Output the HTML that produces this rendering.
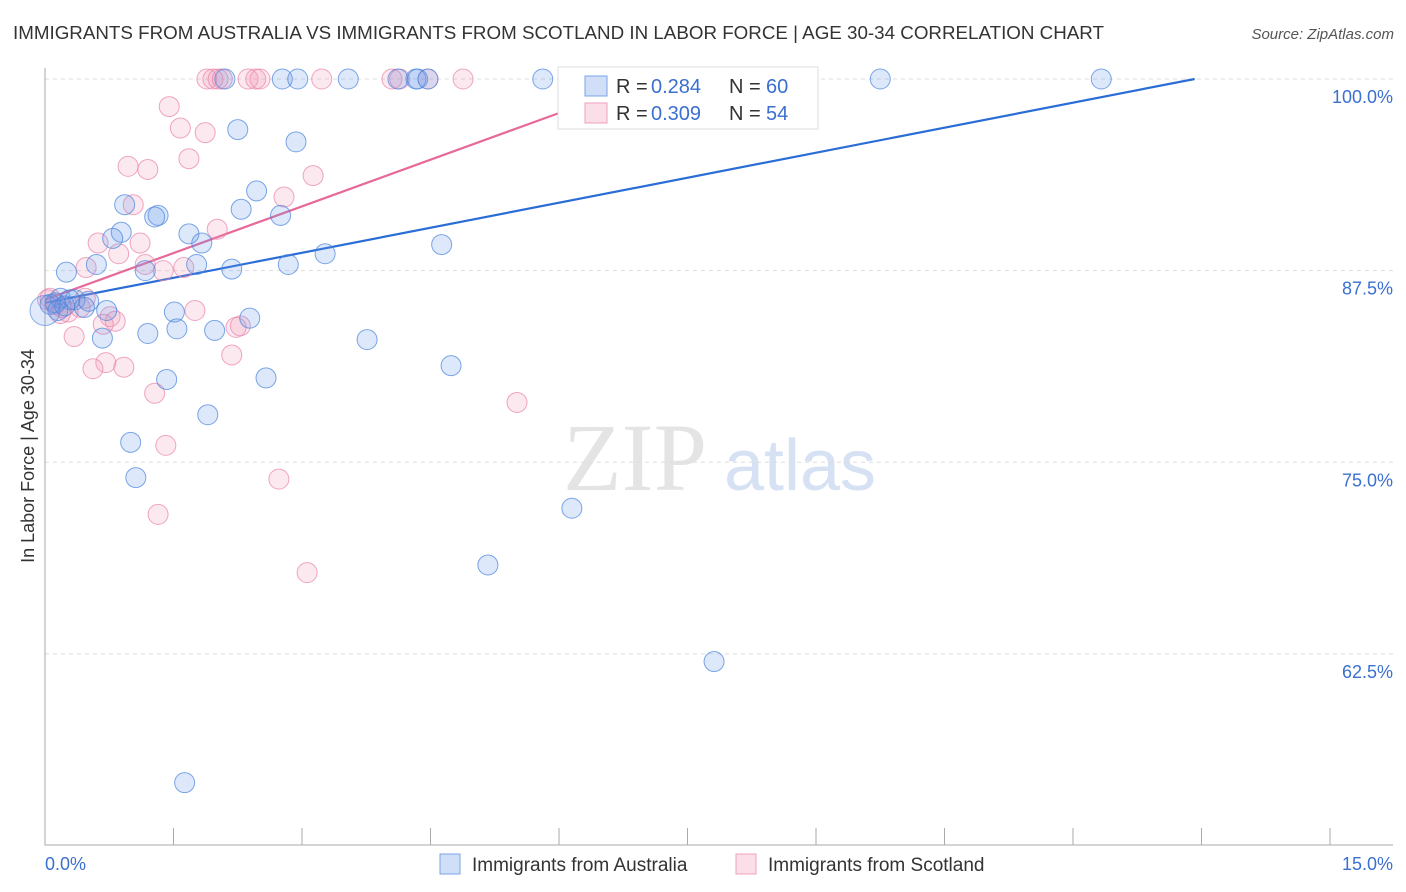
<!DOCTYPE html>
<html><head><meta charset="utf-8"><style>
body{margin:0;background:#fff;font-family:"Liberation Sans",sans-serif}
</style></head><body>
<svg id="chart" width="1406" height="892" xmlns="http://www.w3.org/2000/svg" style="display:block">
<text x="13" y="39" font-size="18" fill="#333" textLength="1091" lengthAdjust="spacingAndGlyphs">IMMIGRANTS FROM AUSTRALIA VS IMMIGRANTS FROM SCOTLAND IN LABOR FORCE | AGE 30-34 CORRELATION CHART</text>
<text x="1394" y="39" font-size="15" fill="#555" text-anchor="end" font-style="italic">Source: ZipAtlas.com</text>
<g>
<text x="635" y="490" font-size="96" fill="#e4e4e4" font-family="Liberation Serif" text-anchor="middle">ZIP</text>
<text x="800" y="490" font-size="72" fill="#d6e2f4" text-anchor="middle">atlas</text>
</g>
<g id="grid"></g>
<g id="axes"></g>
<g id="lines"></g>
<g id="pts"></g>
<g>
<rect x="558" y="67" width="260" height="62" fill="#fff" stroke="#ddd"/>
<rect x="585" y="76" width="22" height="20" fill="rgba(100,150,230,0.3)" stroke="#7aa4e8"/>
<text x="616" y="93" font-size="20" fill="#333">R = </text><text x="651" y="93" font-size="20" fill="#3b6fd0">0.284</text>
<text x="729" y="93" font-size="20" fill="#333">N = </text><text x="766" y="93" font-size="20" fill="#3b6fd0">60</text>
<rect x="585" y="103" width="22" height="20" fill="rgba(240,150,180,0.3)" stroke="#eea0bd"/>
<text x="616" y="120" font-size="20" fill="#333">R = </text><text x="651" y="120" font-size="20" fill="#3b6fd0">0.309</text>
<text x="729" y="120" font-size="20" fill="#333">N = </text><text x="766" y="120" font-size="20" fill="#3b6fd0">54</text>
</g>
<text transform="translate(34,456) rotate(-90)" font-size="18" fill="#333" text-anchor="middle">In Labor Force | Age 30-34</text>
<text x="45" y="870" font-size="18" fill="#3b6fd0">0.0%</text>
<text x="1393" y="870" font-size="18" fill="#3b6fd0" text-anchor="end">15.0%</text>
<g>
<rect x="440" y="854" width="20" height="20" fill="rgba(100,150,230,0.3)" stroke="#7aa4e8"/>
<text x="472" y="871" font-size="19" fill="#333">Immigrants from Australia</text>
<rect x="736" y="854" width="20" height="20" fill="rgba(240,150,180,0.3)" stroke="#eea0bd"/>
<text x="768" y="871" font-size="19" fill="#333">Immigrants from Scotland</text>
</g>
</svg>
<script>
const yTicks=[100,87.5,75,62.5];
const yTickLabels=["100.0%","87.5%","75.0%","62.5%"];
const xTicks=[0,1.5,3,4.5,6,7.5,9,10.5,12,13.5,15];
const ausX=[2.10,2.77,2.95,3.54,4.12,4.33,4.35,4.47,5.81,6.85,9.75,12.33,2.25,2.93,2.47,0.93,1.32,1.28,2.29,2.75,0.89,0.79,1.68,1.83,4.63,3.27,0.60,0.25,1.77,1.17,2.18,2.84,0.18,0.06,0.35,0.51,0.72,0.46,1.51,2.39,0.67,1.20,1.54,1.98,3.76,4.74,1.42,2.58,1.90,1.00,1.06,6.15,5.17,7.81,1.63,0.12,0.29,0.15,0.23];
const ausY=[100,100,100,100,100,100,100,100,100,100,100,100,96.7,95.9,92.7,91.8,91.1,91.0,91.5,91.1,90.0,89.6,89.9,89.3,89.2,88.6,87.9,87.4,87.9,87.5,87.6,87.9,85.7,85.3,85.6,85.5,84.9,85.1,84.8,84.4,83.1,83.4,83.7,83.6,83.0,81.3,80.4,80.5,78.1,76.3,74.0,72.0,68.3,62.0,54.1,85.4,85.6,84.9,85.2];
const scoX=[1.89,1.96,2.02,2.07,2.37,2.46,2.51,3.23,4.05,4.14,4.47,4.88,1.45,1.58,1.87,1.68,0.97,1.20,1.03,2.79,3.13,0.62,1.11,2.01,0.86,0.48,1.17,1.38,1.62,1.75,0.06,0.12,0.20,0.27,0.41,0.76,0.82,0.68,0.34,2.28,2.23,2.18,0.71,0.92,0.56,1.28,1.41,2.73,1.32,3.06,5.51,0.03,0.18,0.47];
const scoY=[100,100,100,100,100,100,100,100,100,100,100,100,98.2,96.8,96.5,94.8,94.3,94.1,91.8,92.3,93.7,89.3,89.3,90.2,88.6,87.7,87.9,87.5,87.7,84.9,85.7,85.3,85.1,84.8,85.1,84.5,84.2,84.0,83.2,83.9,83.8,82.0,81.5,81.2,81.1,79.5,76.1,73.9,71.6,67.8,78.9,85.6,84.7,85.7];
const ausTrend=[[0,85.4],[13.42,100]];
const scoTrend=[[0,85.6],[6.01,97.8]];
const NS="http://www.w3.org/2000/svg";
const sx=v=>45+v*(1285/15);
const sy=v=>79+(100-v)*15.33;
function mk(tag,attrs,parent){const e=document.createElementNS(NS,tag);for(const k in attrs)e.setAttribute(k,attrs[k]);parent.appendChild(e);return e;}
const grid=document.getElementById('grid'),axes=document.getElementById('axes'),lines=document.getElementById('lines'),pts=document.getElementById('pts');
yTicks.forEach((t,i)=>{
 const l=mk('line',{x1:45,x2:1393,y1:sy(t),y2:sy(t),stroke:'#ddd','stroke-dasharray':'4,4'},grid);
 
 
 const tx=mk('text',{x:1393,y:sy(t)+24,'font-size':18,fill:'#3b6fd0','text-anchor':'end'},grid);
 tx.textContent=yTickLabels[i];
 
 
});
const ax=mk('path',{d:'M45,68 V845 H1393',stroke:'#aaa',fill:'none'},axes);


xTicks.forEach(t=>{
 const l=mk('line',{x1:sx(t),x2:sx(t),y1:828,y2:845,stroke:'#aaa'},axes);
 
 
});
function dots(X,Y,fill,stroke,name){
 X.forEach((x,i)=>{
  const c=mk('circle',{cx:sx(x),cy:sy(Y[i]),r:10,fill:fill,stroke:stroke,'stroke-width':1},pts);
  
  
 });
}
dots(scoX,scoY,'rgba(240,150,180,0.22)','rgba(232,130,170,0.7)','scotland-point');
dots(ausX,ausY,'rgba(100,150,230,0.22)','rgba(70,130,220,0.7)','australia-point');
const big=mk('circle',{cx:sx(0),cy:sy(84.9),r:15,fill:'rgba(100,150,230,0.2)',stroke:'rgba(70,130,220,0.6)'},pts);


function trend(T,col,name){
 const l=mk('line',{x1:sx(T[0][0]),y1:sy(T[0][1]),x2:sx(T[1][0]),y2:sy(T[1][1]),stroke:col,'stroke-width':2.2},lines);
 
 
}
trend(ausTrend,'#2a6dd6','australia-trendline');
trend(scoTrend,'#e6699a','scotland-trendline');
</script>
</body></html>
